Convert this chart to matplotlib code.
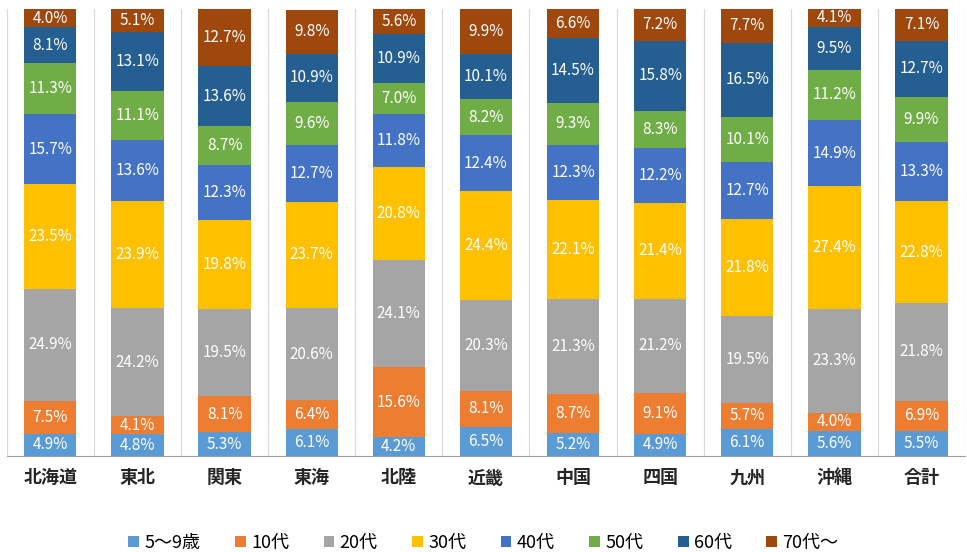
import matplotlib
matplotlib.use("Agg")
import matplotlib.pyplot as plt
import numpy as np

plt.rcParams['font.family'] = ['Noto Sans CJK JP', 'DejaVu Sans']

regions = ["北海道", "東北", "関東", "東海", "北陸", "近畿", "中国", "四国", "九州", "沖縄", "合計"]
age_groups = ["5〜9歳", "10代", "20代", "30代", "40代", "50代", "60代", "70代〜"]
colors = ["#5B9BD5", "#ED7D31", "#A5A5A5", "#FFC000", "#4472C4", "#70AD47", "#255E91", "#9E480E"]

age_5_9 = [4.9, 4.8, 5.3, 6.1, 4.2, 6.5, 5.2, 4.9, 6.1, 5.6, 5.5]
age_10s = [7.5, 4.1, 8.1, 6.4, 15.6, 8.1, 8.7, 9.1, 5.7, 4.0, 6.9]
age_20s = [24.9, 24.2, 19.5, 20.6, 24.1, 20.3, 21.3, 21.2, 19.5, 23.3, 21.8]
age_30s = [23.5, 23.9, 19.8, 23.7, 20.8, 24.4, 22.1, 21.4, 21.8, 27.4, 22.8]
age_40s = [15.7, 13.6, 12.3, 12.7, 11.8, 12.4, 12.3, 12.2, 12.7, 14.9, 13.3]
age_50s = [11.3, 11.1, 8.7, 9.6, 7.0, 8.2, 9.3, 8.3, 10.1, 11.2, 9.9]
age_60s = [8.1, 13.1, 13.6, 10.9, 10.9, 10.1, 14.5, 15.8, 16.5, 9.5, 12.7]
age_70p = [4.0, 5.1, 12.7, 9.8, 5.6, 9.9, 6.6, 7.2, 7.7, 4.1, 7.1]

series = [age_5_9, age_10s, age_20s, age_30s, age_40s, age_50s, age_60s, age_70p]

fig = plt.figure(figsize=(9.67, 5.52), dpi=100)
ax = fig.add_axes([0.007, 0.174, 0.991, 0.810])

x = np.arange(len(regions))
bottom = np.zeros(len(regions))
for name, vals, col in zip(age_groups, series, colors):
    vals = np.array(vals)
    ax.bar(x, vals, width=0.6, bottom=bottom, color=col, label=name)
    for xi, b, v in zip(x, bottom, vals):
        ax.text(xi, b + v / 2, "%.1f%%" % v, ha='center', va='center',
                color='white', fontsize=11)
    bottom += vals

# separators between categories
for b in np.arange(-0.5, len(regions), 1.0):
    ax.axvline(b, color='#D9D9D9', lw=0.8, zorder=0)

ax.set_xlim(-0.5, len(regions) - 0.5)
ax.set_ylim(0, 100)
ax.set_yticks([])
ax.set_xticks(x)
ax.set_xticklabels(regions, fontsize=13, fontweight='bold', color='#262626')
ax.tick_params(axis='x', length=0, pad=9)
for s in ['top', 'right', 'left']:
    ax.spines[s].set_visible(False)
ax.spines['bottom'].set_color('#A0A0A0')

fig.legend(loc='center', bbox_to_anchor=(0.5, 0.017), ncol=8, frameon=False,
           fontsize=13, handlelength=0.6, handleheight=0.6, handletextpad=0.3,
           columnspacing=1.9)

fig.savefig("out.png", dpi=100)
